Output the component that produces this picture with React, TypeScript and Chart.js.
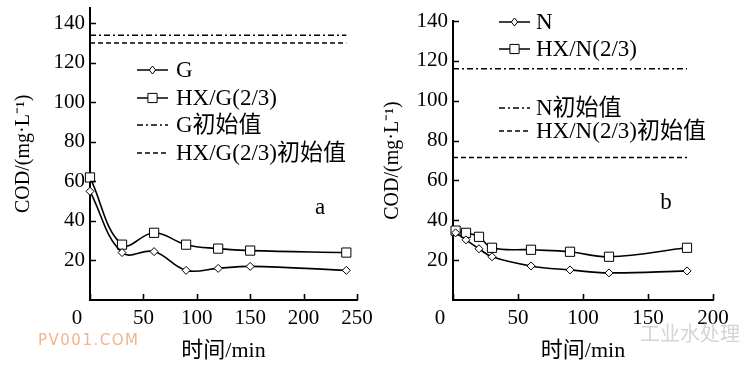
import React, { useEffect, useRef } from 'react';
import { Chart, registerables } from 'chart.js';

Chart.register(...registerables);

const FONT = '"Liberation Serif", "Noto Sans CJK SC", serif';

// ---- Panel a ----
const timeA = [0, 30, 60, 90, 120, 150, 240];
const codG = [55, 24, 24.5, 15, 16, 17, 15];
const codHXG = [62, 28, 34, 28, 26, 25, 24];
const initSpanA = [0, 240];
const initG = 134;
const initHXG = 130;
const xTicksA = [0, 50, 100, 150, 200, 250];
const labelsA = ['G', 'HX/G(2/3)', 'G初始值', 'HX/G(2/3)初始值'];

// ---- Panel b ----
const timeB = [2, 10, 20, 30, 60, 90, 120, 180];
const codN = [33.7, 30.2, 25.7, 21.7, 17.1, 15.1, 13.6, 14.6];
const codHXN = [34.8, 33.7, 31.7, 26.2, 25.2, 24.2, 21.7, 26.2];
const initSpanB = [0, 180];
const initN = 116;
const initHXN = 71.5;
const xTicksB = [0, 50, 100, 150, 200];
const labelsB = ['N', 'HX/N(2/3)', 'N初始值', 'HX/N(2/3)初始值'];

const yTicks = [20, 40, 60, 80, 100, 120, 140];
const panelTags = ['a', 'b'];
const yTitle = 'COD/(mg·L⁻¹)';
const xTitle = '时间/min';

const pts = (xs: number[], ys: number[]) => xs.map((x, i) => ({ x, y: ys[i] }));

const decorPlugin = {
  id: 'panelDecor',
  afterDraw(chart: any, _args: any, opts: any) {
    const ctx = chart.ctx;
    const xs = chart.scales.x;
    const ys = chart.scales.y;
    const area = chart.chartArea;
    ctx.save();
    // inward tick marks
    ctx.strokeStyle = '#000';
    ctx.lineWidth = 1.6;
    ctx.beginPath();
    xs.ticks.forEach((t: any) => {
      const px = Math.round(xs.getPixelForValue(t.value)) + 0.5;
      ctx.moveTo(px, area.bottom);
      ctx.lineTo(px, area.bottom - 6);
    });
    ys.ticks.forEach((t: any) => {
      const py = Math.round(ys.getPixelForValue(t.value)) + 0.5;
      ctx.moveTo(area.left, py);
      ctx.lineTo(area.left + 6, py);
    });
    ctx.stroke();
    // origin label
    ctx.fillStyle = '#000';
    ctx.font = '21px ' + FONT;
    ctx.textAlign = 'center';
    ctx.textBaseline = 'middle';
    ctx.fillText('0', area.left - 13, 318);
    // panel tag
    ctx.font = '23px ' + FONT;
    ctx.fillText(opts.tag.text, opts.tag.x, opts.tag.y);
    // legend
    const lg = opts.legend;
    chart.data.datasets.forEach((ds: any, i: number) => {
      const y = lg.ys[i];
      ctx.strokeStyle = '#000';
      ctx.lineWidth = 1.5;
      ctx.setLineDash(ds.borderDash || []);
      ctx.beginPath();
      ctx.moveTo(lg.x0, y);
      ctx.lineTo(lg.x1, y);
      ctx.stroke();
      ctx.setLineDash([]);
      if (ds.pointRadius > 0) {
        const cx = (lg.x0 + lg.x1) / 2;
        ctx.fillStyle = '#fff';
        ctx.lineWidth = 1;
        ctx.beginPath();
        if (ds.pointStyle === 'rect') {
          const s = ds.pointRadius * Math.SQRT1_2;
          ctx.rect(cx - s, y - s, 2 * s, 2 * s);
        } else {
          const r = ds.pointRadius;
          ctx.moveTo(cx - r * 0.8, y);
          ctx.lineTo(cx, y - r);
          ctx.lineTo(cx + r * 0.8, y);
          ctx.lineTo(cx, y + r);
          ctx.closePath();
        }
        ctx.fill();
        ctx.stroke();
      }
      ctx.fillStyle = '#000';
      ctx.font = '23px ' + FONT;
      ctx.textAlign = 'left';
      ctx.textBaseline = 'middle';
      ctx.fillText(ds.label, lg.tx, y + 1);
    });
    ctx.restore();
  },
};

function makeConfig(p: any) {
  const seriesStyle = {
    borderColor: '#000',
    borderWidth: 1.6,
    pointBackgroundColor: '#fff',
    pointBorderColor: '#000',
    pointBorderWidth: 1,
    tension: 0.4,
    clip: false,
  };
  const refStyle = {
    borderColor: '#000',
    borderWidth: 1.5,
    pointRadius: 0,
    tension: 0,
    clip: false,
  };
  return {
    type: 'line',
    data: {
      datasets: [
        { ...seriesStyle, label: p.labels[0], data: pts(p.time, p.s1), pointStyle: 'rectRot', pointRadius: 4 },
        { ...seriesStyle, label: p.labels[1], data: pts(p.time, p.s2), pointStyle: 'rect', pointRadius: 6.5 },
        { ...refStyle, label: p.labels[2], data: pts(p.span, [p.init1, p.init1]), borderDash: [6, 3, 2, 3] },
        { ...refStyle, label: p.labels[3], data: pts(p.span, [p.init2, p.init2]), borderDash: [5, 3] },
      ],
    },
    options: {
      responsive: false,
      animation: false,
      devicePixelRatio: 1,
      layout: { padding: p.padding },
      plugins: {
        legend: { display: false },
        tooltip: { enabled: false },
        panelDecor: { legend: p.legend, tag: p.tag },
      },
      scales: {
        x: {
          type: 'linear',
          min: 0,
          max: p.xTicks[p.xTicks.length - 1],
          afterBuildTicks: (s: any) => { s.ticks = p.xTicks.map((v: number) => ({ value: v })); },
          afterFit: (s: any) => { s.height = 66; s.paddingLeft = 0; s.paddingRight = 0; },
          grid: { display: false, drawTicks: false },
          border: { display: true, color: '#000', width: 2 },
          ticks: {
            color: '#000',
            padding: 6,
            maxRotation: 0,
            autoSkip: false,
            font: { family: FONT, size: 21 },
            callback: (v: any) => (v === 0 ? '' : String(v)),
          },
          title: {
            display: true,
            text: xTitle,
            color: '#000',
            font: { family: FONT, size: 22 },
            padding: { top: 0, bottom: 2 },
          },
        },
        y: {
          type: 'linear',
          min: 0,
          max: p.yMax,
          afterBuildTicks: (s: any) => { s.ticks = yTicks.map((v) => ({ value: v })); },
          afterFit: (s: any) => { s.width = p.yWidth; s.paddingTop = 0; s.paddingBottom = 0; },
          grid: { display: false, drawTicks: false },
          border: { display: true, color: '#000', width: 2 },
          ticks: {
            color: '#000',
            padding: 5,
            autoSkip: false,
            font: { family: FONT, size: 21 },
          },
          title: {
            display: true,
            text: yTitle,
            color: '#000',
            font: { family: FONT, size: 20 },
            padding: { top: p.yTitlePad, bottom: 0 },
          },
        },
      },
    },
    plugins: [decorPlugin],
  };
}

const panelA = {
  time: timeA, s1: codG, s2: codHXG, span: initSpanA, init1: initG, init2: initHXG,
  labels: labelsA, xTicks: xTicksA, yMax: 148, yWidth: 90, yTitlePad: 12,
  padding: { left: 0, right: 18, top: 4, bottom: 0 },
  legend: { x0: 137, x1: 168, tx: 176, ys: [70, 98, 125, 153] },
  tag: { text: panelTags[0], x: 320, y: 208 },
};

const panelB = {
  time: timeB, s1: codN, s2: codHXN, span: initSpanB, init1: initN, init2: initHXN,
  labels: labelsB, xTicks: xTicksB, yMax: 140, yWidth: 78, yTitlePad: 6,
  padding: { left: 0, right: 37, top: 21, bottom: 0 },
  legend: { x0: 124, x1: 155, tx: 161, ys: [22, 49, 108, 131] },
  tag: { text: panelTags[1], x: 291, y: 203 },
};

function Panel({ cfg, left }: { cfg: any; left: number }) {
  const ref = useRef<HTMLCanvasElement>(null);
  useEffect(() => {
    const chart = new Chart(ref.current as HTMLCanvasElement, makeConfig(cfg) as any);
    return () => chart.destroy();
  }, [cfg]);
  return (
    <canvas
      ref={ref}
      width={375}
      height={366}
      style={{ position: 'absolute', left, top: 0, width: 375, height: 366 }}
    />
  );
}

export default function App() {
  return (
    <div style={{ position: 'absolute', left: 0, top: 0, width: 750, height: 366, background: '#fff', overflow: 'hidden' }}>
      <Panel cfg={panelA} left={0} />
      <Panel cfg={panelB} left={375} />
      <div style={{ position: 'absolute', left: 38, top: 331, font: '15px "DejaVu Sans", sans-serif', letterSpacing: 1.5, color: '#f2b48e' }}>
        PV001.COM
      </div>
      <div style={{ position: 'absolute', left: 640, top: 318, font: '20px "Noto Sans CJK SC", sans-serif', color: '#d4d4d4' }}>
        工业水处理
      </div>
    </div>
  );
}
